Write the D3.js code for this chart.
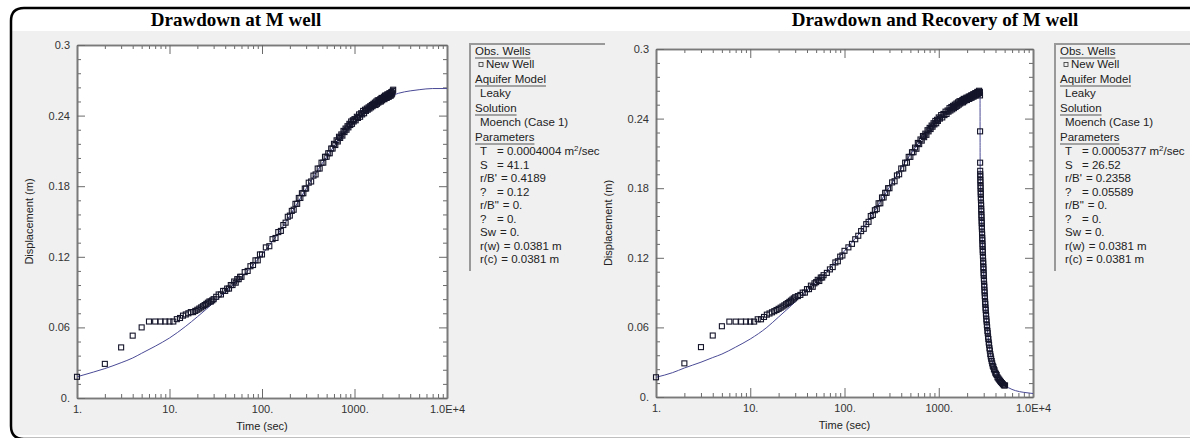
<!DOCTYPE html>
<html>
<head>
<meta charset="utf-8">
<script src="https://cdn.jsdelivr.net/npm/d3@7"></script>
<style>
  body { margin: 0; background: #fff; }
  text { font-family: "Liberation Sans", Arial, sans-serif; fill: #222; }
</style>
</head>
<body>
<svg id="chart" width="1190" height="438"></svg>
<script>
// ---- axis labels
const xTickValues = [1, 10, 100, 1000, 10000];
const xTickLabels = ['1.', '10.', '100.', '1000.', '1.0E+4'];
const yTickValues = [0, 0.06, 0.12, 0.18, 0.24, 0.3];
const yTickLabels = ['0.', '0.06', '0.12', '0.18', '0.24', '0.3'];

// ---- left panel: drawdown (time in sec, displacement in m)
const leftTimes = [1,2,3,4,5,6,7,8,9,10,11,12,13,14,15,16,17,18,19,20,21,22,23,24,25,26,27,28,29,30,
  32,34,36,38,40,42,44,46,48,50,52,54,56,58,60,
  65,70,75,80,85,90,95,100,
  110,120,130,140,150,160,170,180,190,200,210,220,230,240,250,260,270,280,290,300,
  320,340,360,380,400,420,440,460,480,500,520,540,560,580,600,620,640,660,680,700,720,740,760,780,800,820,840,860,880,900,920,940,960,980,1000,
  1030,1060,1090,1120,1150,1180,1210,1240,1270,1300,1330,1360,1390,1420,1450,1480,1510,1540,1570,1600,1630,1660,1690,1720,1750,1780,1810,1840,1870,1900,1930,1960,1990,2020,2050,2080,2110,2140,2170,2200,2230,2260,2290,2320,2350,2380,2410,2440,2470,2500,2530,2560,2590,2620];
const leftDisp = [0.018,0.029,0.043,0.053,0.060,0.065,0.065,0.065,0.065,0.065,0.065,0.067,0.068,0.070,0.071,0.072,0.073,0.073,0.074,0.075,0.076,0.077,0.078,0.079,0.080,0.081,0.082,0.082,0.083,0.084,
  0.086,0.088,0.088,0.091,0.091,0.093,0.093,0.096,0.096,0.099,0.098,0.101,0.101,0.103,0.103,
  0.107,0.108,0.112,0.113,0.117,0.117,0.122,0.122,
  0.128,0.129,0.135,0.136,0.141,0.142,0.147,0.149,0.154,0.155,0.159,0.160,0.165,0.165,0.170,0.170,0.174,0.174,0.178,0.178,
  0.183,0.184,0.189,0.190,0.195,0.195,0.200,0.200,0.205,0.205,0.208,0.208,0.212,0.212,0.216,0.215,0.219,0.218,0.222,0.221,0.224,0.223,0.227,0.226,0.229,0.228,0.231,0.230,0.233,0.232,0.235,0.233,0.236,0.235,0.237,
  0.236,0.239,0.238,0.241,0.239,0.242,0.241,0.244,0.242,0.245,0.244,0.246,0.245,0.247,0.246,0.248,0.247,0.249,0.248,0.250,0.249,0.251,0.249,0.252,0.250,0.253,0.251,0.253,0.252,0.254,0.252,0.255,0.253,0.255,0.254,0.256,0.254,0.257,0.255,0.257,0.255,0.258,0.256,0.258,0.256,0.259,0.257,0.259,0.257,0.260,0.258,0.259,0.261,0.262];
const leftFitTimes = [1,1.5,2,3,4,5,7,10,15,20,30,40,50,70,100,150,200,300,500,700,1000,1500,2000,3000,4000,5000,7000,10000];
const leftFitDisp = [0.018,0.022,0.025,0.030,0.034,0.038,0.044,0.051,0.061,0.069,0.081,0.090,0.097,0.108,0.122,0.140,0.155,0.178,0.205,0.221,0.235,0.247,0.253,0.259,0.261,0.262,0.263,0.263];

// ---- right panel: drawdown and recovery
const rightTimes = [1,2,3,4,5,6,7,8,9,10,11,12,13,14,15,16,17,18,19,20,21,22,23,24,25,26,27,28,29,30,
  32,34,36,38,40,42,44,46,48,50,52,54,56,58,60,
  65,70,75,80,85,90,95,100,
  110,120,130,140,150,160,170,180,190,200,210,220,230,240,250,260,270,280,290,300,
  320,340,360,380,400,420,440,460,480,500,520,540,560,580,600,620,640,660,680,700,720,740,760,780,800,820,840,860,880,900,920,940,960,980,1000,
  1030,1060,1090,1120,1150,1180,1210,1240,1270,1300,1330,1360,1390,1420,1450,1480,1510,1540,1570,1600,1630,1660,1690,1720,1750,1780,1810,1840,1870,1900,1930,1960,1990,2020,2050,2080,2110,2140,2170,2200,2230,2260,2290,2320,2350,2380,2410,2440,2470,2500,2530,2560,2590,2620,2650,2680,2710,2730,2740,
  2745,2748,2752,2756,2760,2765,2770,2775,2780,2786,2792,2798,2804,2810,2816,2822,2829,2836,2843,2850,2857,2864,2871,2878,2886,2894,2902,2910,2918,2926,2934,2942,2950,2958,2966,2975,2984,2993,3002,3012,3022,3033,3044,3056,3068,3080,3093,3106,3120,3135,3150,3166,3183,3200,3220,3240,3262,3285,3310,3335,3362,3390,3420,3452,3486,3522,3560,3600,3645,3690,3740,3795,3850,3910,3975,4045,4120,4200,4285,4375,4470,4570,4680,4800,4920,5050];
const rightDisp = [0.017,0.029,0.043,0.053,0.061,0.065,0.065,0.065,0.065,0.065,0.065,0.067,0.067,0.069,0.071,0.072,0.073,0.074,0.075,0.076,0.077,0.078,0.079,0.080,0.081,0.082,0.083,0.084,0.085,0.086,
  0.087,0.088,0.090,0.090,0.093,0.093,0.096,0.095,0.098,0.099,0.101,0.100,0.103,0.103,0.105,
  0.107,0.110,0.112,0.116,0.117,0.121,0.122,0.126,
  0.129,0.132,0.136,0.139,0.143,0.145,0.149,0.151,0.156,0.157,0.161,0.162,0.167,0.167,0.172,0.172,0.176,0.176,0.180,0.180,
  0.185,0.186,0.191,0.192,0.197,0.197,0.202,0.202,0.207,0.207,0.211,0.211,0.215,0.214,0.219,0.218,0.222,0.221,0.225,0.224,0.227,0.226,0.230,0.229,0.232,0.231,0.234,0.233,0.236,0.235,0.238,0.236,0.239,0.238,0.241,
  0.240,0.243,0.241,0.244,0.243,0.246,0.244,0.247,0.246,0.249,0.247,0.250,0.248,0.251,0.249,0.252,0.250,0.253,0.251,0.254,0.252,0.255,0.253,0.255,0.254,0.256,0.254,0.257,0.255,0.257,0.256,0.258,0.256,0.258,0.257,0.259,0.257,0.259,0.258,0.260,0.258,0.260,0.259,0.261,0.259,0.261,0.260,0.262,0.260,0.262,0.261,0.263,0.261,0.263,0.262,0.264,0.262,0.263,0.260,
  0.229,0.202,0.195,0.192,0.190,0.187,0.185,0.182,0.180,0.177,0.175,0.172,0.170,0.167,0.165,0.162,0.160,0.157,0.155,0.152,0.150,0.147,0.145,0.142,0.140,0.137,0.135,0.132,0.130,0.127,0.125,0.122,0.120,0.117,0.115,0.112,0.110,0.107,0.105,0.102,0.100,0.097,0.095,0.092,0.090,0.087,0.085,0.082,0.080,0.077,0.075,0.072,0.070,0.067,0.065,0.062,0.060,0.057,0.055,0.052,0.050,0.047,0.045,0.042,0.040,0.037,0.035,0.033,0.031,0.029,0.027,0.026,0.024,0.023,0.021,0.020,0.019,0.017,0.016,0.015,0.014,0.013,0.012,0.011,0.010,0.010];
const rightFitTimes = [1,1.5,2,3,4,5,7,10,15,20,30,40,50,70,100,150,200,300,500,700,1000,1500,2000,2500,2742,2746,2752,2780,2850,2950,3030,3170,3350,3520,3800,4120,4500,4850,5500,6500,8000,10000];
const rightFitDisp = [0.017,0.021,0.025,0.030,0.034,0.037,0.043,0.050,0.060,0.069,0.082,0.092,0.099,0.111,0.126,0.143,0.158,0.181,0.209,0.225,0.240,0.251,0.257,0.261,0.262,0.215,0.196,0.180,0.152,0.118,0.099,0.072,0.051,0.038,0.027,0.020,0.0145,0.011,0.008,0.0055,0.004,0.003];

// ---- legend texts (label, value)
const paramLabels = ['T', 'S', "r/B'", '?', 'r/B"', '?', 'Sw', 'r(w)', 'r(c)'];
const leftParamValues = ['0.0004004 m', '41.1', '0.4189', '0.12', '0.', '0.', '0.', '0.0381 m', '0.0381 m'];
const rightParamValues = ['0.0005377 m', '26.52', '0.2358', '0.05589', '0.', '0.', '0.', '0.0381 m', '0.0381 m'];

const svg = d3.select('#chart');

// background, title band and frame
svg.append('rect').attr('width', 1190).attr('height', 438).attr('fill', '#fff');
svg.append('rect').attr('x', 11).attr('y', 31).attr('width', 1179).attr('height', 404).attr('fill', '#f0f0f0');
svg.append('path')
  .attr('d', 'M1190,8 H24 Q11,8 11,21 V426 Q11,439 24,439 H1190')
  .attr('fill', 'none').attr('stroke', '#000').attr('stroke-width', 2.5);

function drawPanel(cfg) {
  const x = d3.scaleLog().domain([1, 1e4]).range([cfg.x0, cfg.x1]);
  const y = d3.scaleLinear().domain([0, 0.3]).range([cfg.y1, cfg.y0]);
  const g = svg.append('g');

  svg.append('text').attr('x', cfg.titleX).attr('y', 26).attr('text-anchor', 'middle')
    .style('font-family', '"Liberation Serif", "Times New Roman", serif')
    .style('font-weight', 'bold').style('font-size', cfg.titleSize).style('fill', '#000')
    .text(cfg.title);

  g.append('rect').attr('x', cfg.x0).attr('y', cfg.y0)
    .attr('width', cfg.x1 - cfg.x0).attr('height', cfg.y1 - cfg.y0).attr('fill', '#fff');

  const xMinor = x.ticks().filter(d => xTickValues.indexOf(d) < 0);
  const yMinor = d3.range(0, 0.3001, 0.012).map(d => +d.toFixed(3)).filter(d => yTickValues.indexOf(d) < 0);

  const axes = [
    [d3.axisBottom(x).tickValues(xMinor).tickSize(-4).tickFormat(''), `translate(0,${cfg.y1})`],
    [d3.axisBottom(x).tickValues(xTickValues).tickSize(-9).tickPadding(7).tickFormat((d, i) => xTickLabels[i]), `translate(0,${cfg.y1})`],
    [d3.axisTop(x).tickValues(xMinor).tickSize(-4).tickFormat(''), `translate(0,${cfg.y0})`],
    [d3.axisTop(x).tickValues(xTickValues).tickSize(-9).tickFormat(''), `translate(0,${cfg.y0})`],
    [d3.axisLeft(y).tickValues(yMinor).tickSize(-4).tickFormat(''), `translate(${cfg.x0},0)`],
    [d3.axisLeft(y).tickValues(yTickValues).tickSize(-8).tickPadding(7).tickFormat((d, i) => yTickLabels[i]), `translate(${cfg.x0},0)`],
    [d3.axisRight(y).tickValues(yMinor).tickSize(-4).tickFormat(''), `translate(${cfg.x1},0)`],
    [d3.axisRight(y).tickValues(yTickValues).tickSize(-8).tickFormat(''), `translate(${cfg.x1},0)`]
  ];
  axes.forEach(([ax, tr]) => {
    const a = g.append('g').attr('transform', tr).call(ax.tickSizeOuter(0));
    a.select('.domain').attr('stroke', '#7a7a7a').attr('stroke-width', 1.6);
    a.selectAll('.tick line').attr('stroke', '#6a6a6a');
    a.selectAll('.tick text').style('font-size', '11px').style('fill', '#333')
      .style('font-family', '"Liberation Sans", Arial, sans-serif');
  });

  // axis titles
  g.append('text').attr('x', (cfg.x0 + cfg.x1) / 2).attr('y', cfg.y1 + 32).attr('text-anchor', 'middle')
    .style('font-size', '11px').text('Time (sec)');
  g.append('text').attr('transform', `translate(${cfg.x0 - 44},${(cfg.y0 + cfg.y1) / 2}) rotate(-90)`)
    .attr('text-anchor', 'middle').style('font-size', '11px').text('Displacement (m)');

  // fitted curve
  const fit = cfg.fitT.map((t, i) => [t, cfg.fitV[i]]);
  g.append('path').datum(fit)
    .attr('d', d3.line().x(d => x(d[0])).y(d => y(d[1])).curve(d3.curveMonotoneX))
    .attr('fill', 'none').attr('stroke', '#4a4a96').attr('stroke-width', 1);

  // observations
  const obs = cfg.times.map((t, i) => [t, cfg.disp[i]]);
  g.append('g').selectAll('rect').data(obs).join('rect')
    .attr('x', d => x(d[0]) - 2.5).attr('y', d => y(d[1]) - 2.5)
    .attr('width', 5).attr('height', 5)
    .attr('fill', 'none').attr('stroke', '#14142a').attr('stroke-width', 1.1);

  // legend panel
  const lx = cfg.legendX;
  const lg = svg.append('g');
  lg.append('line').attr('x1', lx).attr('x2', lx + 135).attr('y1', 44).attr('y2', 44)
    .attr('stroke', '#999').attr('stroke-width', 2);
  lg.append('line').attr('x1', lx).attr('x2', lx).attr('y1', 43).attr('y2', 271)
    .attr('stroke', '#999').attr('stroke-width', 2);

  const fs = '11.5px';
  function header(txt, yy) {
    const t = lg.append('text').attr('x', lx + 5).attr('y', yy).style('font-size', fs).text(txt);
    const w = t.node().getComputedTextLength();
    lg.append('line').attr('x1', lx + 5).attr('x2', lx + 5 + w).attr('y1', yy + 3).attr('y2', yy + 3)
      .attr('stroke', '#555').attr('stroke-width', 1);
  }
  function item(txt, yy) {
    return lg.append('text').attr('x', lx + 10).attr('y', yy).style('font-size', fs).text(txt);
  }
  header('Obs. Wells', 55);
  lg.append('rect').attr('x', lx + 9).attr('y', 62.5).attr('width', 4).attr('height', 4)
    .attr('fill', 'none').attr('stroke', '#333').attr('stroke-width', 0.8);
  lg.append('text').attr('x', lx + 16).attr('y', 68).style('font-size', fs).text('New Well');
  header('Aquifer Model', 83);
  item('Leaky', 97);
  header('Solution', 112);
  item('Moench (Case 1)', 126);
  header('Parameters', 141);
  paramLabels.forEach((lab, i) => {
    const yy = 155 + i * 13.5;
    const t = item(lab, yy);
    const w = t.node().getComputedTextLength();
    const v = lg.append('text').attr('x', lx + 10 + Math.max(w + 4, 17)).attr('y', yy)
      .style('font-size', fs).text('= ' + cfg.values[i]);
    if (i === 0) {
      v.append('tspan').attr('dy', -4).style('font-size', '8px').text('2');
      v.append('tspan').attr('dy', 4).text('/sec');
    }
  });
}

drawPanel({
  x0: 77, x1: 447, y0: 45, y1: 398, titleX: 236, titleSize: '19px', title: 'Drawdown at M well',
  times: leftTimes, disp: leftDisp, fitT: leftFitTimes, fitV: leftFitDisp,
  legendX: 470, values: leftParamValues
});
drawPanel({
  x0: 656, x1: 1033, y0: 49, y1: 397, titleX: 935, titleSize: '19px', title: 'Drawdown and Recovery of M well',
  times: rightTimes, disp: rightDisp, fitT: rightFitTimes, fitV: rightFitDisp,
  legendX: 1055, values: rightParamValues
});
</script>
</body>
</html>
